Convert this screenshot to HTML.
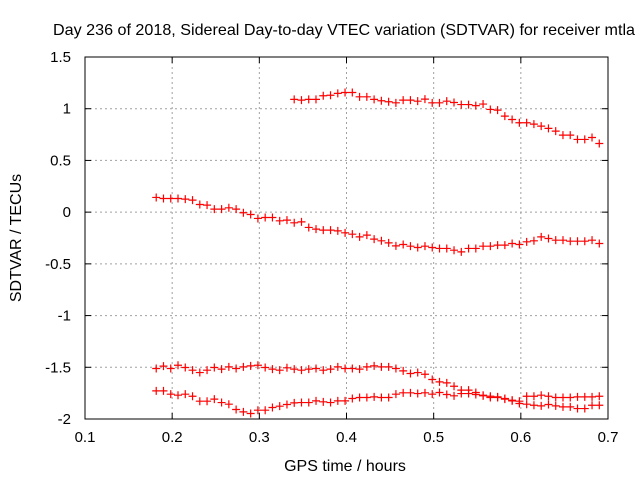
<!DOCTYPE html>
<html><head><meta charset="utf-8"><style>
body{margin:0;background:#fff;}
svg{display:block;font-family:"Liberation Sans",sans-serif;}
</style></head><body>
<svg id="chart" width="640" height="480">
<text x="344" y="35" font-size="16" text-anchor="middle" textLength="582" lengthAdjust="spacingAndGlyphs">Day 236 of 2018, Sidereal Day-to-day VTEC variation (SDTVAR) for receiver mtla</text>
<text x="345" y="471" font-size="16" text-anchor="middle">GPS time / hours</text>
<text transform="translate(21,238) rotate(-90)" font-size="16" text-anchor="middle">SDTVAR / TECUs</text>
<g id="grid"></g>
<g id="ticks"></g>
<g id="marks"></g>
<rect x="85" y="57" width="523" height="362" fill="none" stroke="#000" stroke-width="1"/>
</svg>
<script>
const xTicks = [0.1,0.2,0.3,0.4,0.5,0.6,0.7];
const xTickLabels = ["0.1","0.2","0.3","0.4","0.5","0.6","0.7"];
const yTicks = [1.5,1,0.5,0,-0.5,-1,-1.5,-2];
const yTickLabels = ["1.5","1","0.5","0","-0.5","-1","-1.5","-2"];
const timeStep = 1/120;
const startA = 0.3400;
const startB = 0.1817;
const seriesA = [1.09,1.083,1.09,1.09,1.125,1.13,1.148,1.157,1.157,1.115,1.115,1.09,1.077,1.067,1.057,1.083,1.083,1.073,1.093,1.057,1.057,1.073,1.06,1.04,1.04,1.03,1.045,0.993,0.986,0.928,0.896,0.864,0.864,0.851,0.832,0.81,0.783,0.745,0.745,0.703,0.703,0.722,0.664];
const seriesB = [0.142,0.132,0.132,0.132,0.126,0.116,0.074,0.068,0.029,0.029,0.042,0.029,-0.006,-0.023,-0.061,-0.052,-0.052,-0.084,-0.077,-0.103,-0.094,-0.148,-0.164,-0.174,-0.174,-0.181,-0.2,-0.213,-0.239,-0.222,-0.261,-0.277,-0.297,-0.326,-0.313,-0.329,-0.342,-0.329,-0.342,-0.351,-0.351,-0.368,-0.384,-0.351,-0.351,-0.329,-0.329,-0.319,-0.319,-0.303,-0.313,-0.287,-0.277,-0.239,-0.255,-0.271,-0.271,-0.281,-0.281,-0.281,-0.271,-0.303];
const seriesC = [-1.512,-1.489,-1.512,-1.48,-1.502,-1.528,-1.551,-1.528,-1.502,-1.518,-1.496,-1.512,-1.496,-1.486,-1.48,-1.502,-1.518,-1.528,-1.505,-1.518,-1.528,-1.518,-1.512,-1.528,-1.518,-1.496,-1.512,-1.512,-1.518,-1.496,-1.486,-1.496,-1.496,-1.512,-1.535,-1.56,-1.551,-1.567,-1.618,-1.641,-1.651,-1.683,-1.721,-1.721,-1.744,-1.776,-1.792,-1.792,-1.808,-1.825,-1.85,-1.857,-1.867,-1.873,-1.86,-1.873,-1.883,-1.883,-1.899,-1.899,-1.867,-1.867];
const seriesD = [-1.728,-1.728,-1.76,-1.77,-1.76,-1.78,-1.828,-1.828,-1.808,-1.841,-1.857,-1.908,-1.931,-1.947,-1.915,-1.915,-1.889,-1.876,-1.86,-1.844,-1.841,-1.841,-1.825,-1.834,-1.841,-1.825,-1.825,-1.802,-1.792,-1.792,-1.786,-1.792,-1.792,-1.76,-1.747,-1.747,-1.754,-1.747,-1.76,-1.744,-1.763,-1.776,-1.754,-1.754,-1.763,-1.77,-1.78,-1.786,-1.802,-1.818,-1.828,-1.78,-1.78,-1.77,-1.78,-1.792,-1.792,-1.792,-1.786,-1.786,-1.786,-1.78];

const L=85,R=608,T=57,B=419;
function xs(v){return L+(v-0.1)/0.6*(R-L);}
function ys(v){return T+(1.5-v)/3.5*(B-T);}
const NS="http://www.w3.org/2000/svg";
function mk(tag,attrs,parent){const e=document.createElementNS(NS,tag);for(const k in attrs)e.setAttribute(k,attrs[k]);parent.appendChild(e);return e;}
const grid=document.getElementById('grid'),ticks=document.getElementById('ticks'),marks=document.getElementById('marks');
xTicks.forEach((t,i)=>{const x=xs(t);
  if(i>0&&i<xTicks.length-1){const g=mk('line',{x1:x,x2:x,y1:T,y2:B,stroke:'#a0a0a0','stroke-dasharray':'2,3'},grid);
  
  }
  mk('line',{x1:x,x2:x,y1:B,y2:B-6,stroke:'#000'},ticks);
  mk('line',{x1:x,x2:x,y1:T,y2:T+6,stroke:'#000'},ticks);
  const tx=mk('text',{x:x,y:B+23,'font-size':15,'text-anchor':'middle'},ticks);tx.textContent=xTickLabels[i];
  
  
});
yTicks.forEach((t,i)=>{const y=ys(t);
  if(i>0&&i<yTicks.length-1){const g=mk('line',{x1:L,x2:R,y1:y,y2:y,stroke:'#a0a0a0','stroke-dasharray':'2,3'},grid);
  
  }
  mk('line',{x1:L,x2:L+6,y1:y,y2:y,stroke:'#000'},ticks);
  mk('line',{x1:R,x2:R-6,y1:y,y2:y,stroke:'#000'},ticks);
  const tx=mk('text',{x:71,y:y+5,'font-size':15,'text-anchor':'end'},ticks);tx.textContent=yTickLabels[i];
  
  
});
function plus(x,y){return `M${x-4},${y}H${x+4}M${x},${y-4}V${y+4}`;}
function drawSeries(vals,start,name){let d='';vals.forEach((v,i)=>{d+=plus(xs(start+i*timeStep),ys(v));});
  const p=mk('path',{d:d,stroke:'#ff0000','stroke-width':1.2,fill:'none'},marks);
  
  }
drawSeries(seriesA,startA,'series-a-points');
drawSeries(seriesB,startB,'series-b-points');
drawSeries(seriesC,startB,'series-c-points');
drawSeries(seriesD,startB,'series-d-points');
</script>
</body></html>
